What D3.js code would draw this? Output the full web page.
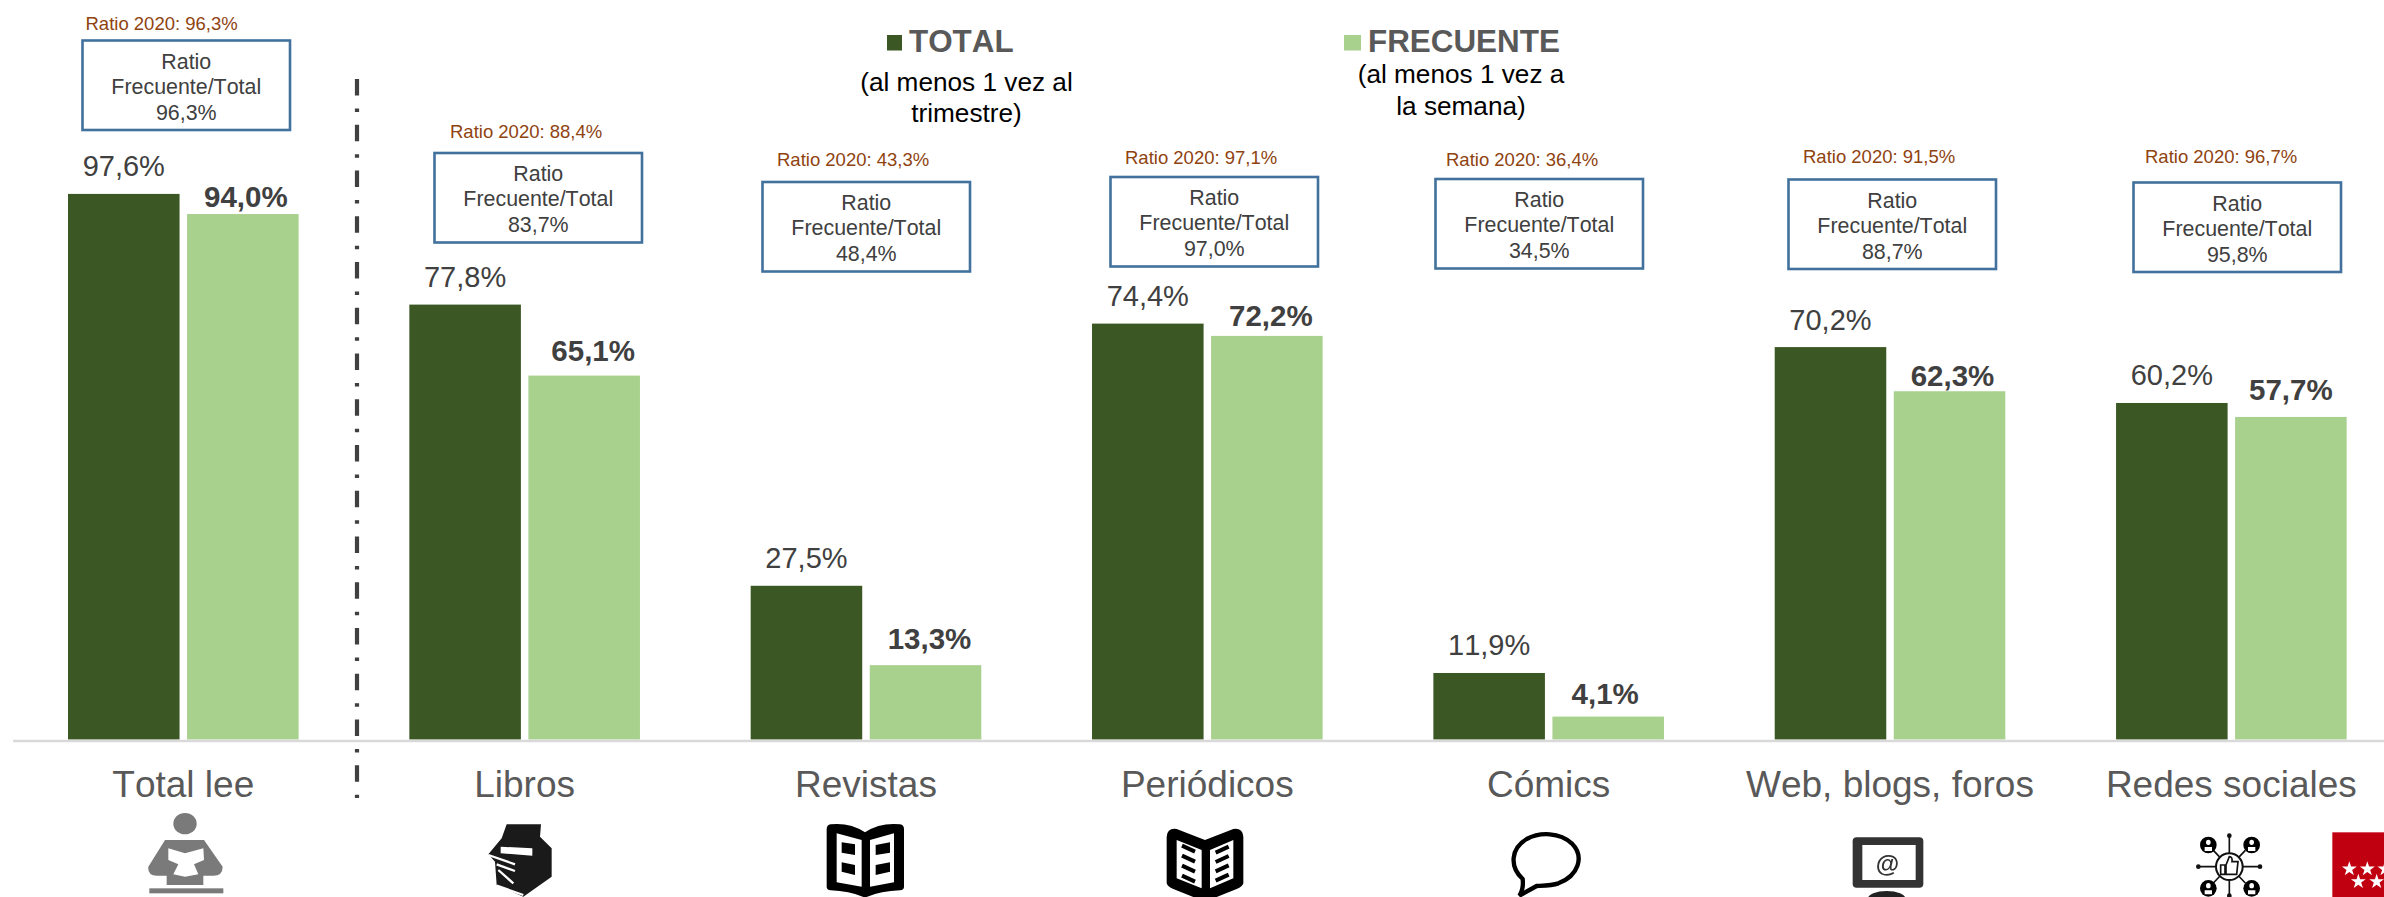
<!DOCTYPE html>
<html lang="es">
<head>
<meta charset="utf-8">
<title>Lectura: total y frecuente</title>
<script src="https://cdn.jsdelivr.net/npm/d3@7/dist/d3.min.js"></script>
<style>
html,body{margin:0;padding:0;background:#fff;overflow:hidden}
svg{display:block;font-family:"Liberation Sans",Arial,sans-serif;font-kerning:none}
svg text{font-kerning:none}
</style>
</head>
<body>
<svg id="chart" width="2384" height="897" viewBox="0 0 2384 897"></svg>
<script>
const categories = ["Total lee","Libros","Revistas","Periódicos","Cómics","Web, blogs, foros","Redes sociales"];
const seriesKeys = ["total","frecuente"];
const totalValues = [97.6,77.8,27.5,74.4,11.9,70.2,60.2];
const frecuenteValues = [94.0,65.1,13.3,72.2,4.1,62.3,57.7];
const ratioValues = [96.3,83.7,48.4,97.0,34.5,88.7,95.8];
const ratio2020Values = [96.3,88.4,43.3,97.1,36.4,91.5,96.7];

// layout of annotations
const boxLeft = [82.5,434.5,762.5,1110.5,1435.5,1788.5,2133.5];
const boxTop = [40.5,153,182,177,179,179.5,182.5];
const ratio2020Left = [85.5,450,777,1125,1446,1803,2145];
const ratio2020Mid = [23,131,159.5,157,159,156.5,156.5];
const freqLabelNudge = [3,9,4,4,-3,3,0];
const freqLabelLift = [7,14.5,16,10,13,5.5,17];

const fmtLocale = d3.formatLocale({decimal:",",thousands:".",grouping:[3],currency:["","€"]});
const pct = v => fmtLocale.format(".1f")(v) + "%";

const svg = d3.select("#chart");
const baseY = 739.5;
const y = d3.scaleLinear().domain([0,100]).range([baseY,baseY-559]);
const x0 = d3.scaleBand().domain(categories).range([12.6,2402]).padding(0);
const x1 = d3.scaleBand().domain(seriesKeys).range([55.4,286]).paddingInner(0.063);
const color = d3.scaleOrdinal().domain(seriesKeys).range(["#3b5723","#a9d18e"]);

const valuesOf = {total: totalValues, frecuente: frecuenteValues};

// Bars
const groups = svg.append("g").selectAll("g").data(categories).join("g")
  .attr("transform", c => `translate(${x0(c)},0)`);
groups.selectAll("rect")
  .data((c,i) => seriesKeys.map(k => ({k, v: valuesOf[k][i]})))
  .join("rect")
  .attr("x", d => x1(d.k)).attr("width", x1.bandwidth())
  .attr("y", d => y(d.v)).attr("height", d => baseY - y(d.v))
  .attr("fill", d => color(d.k));

// Axis
const axis = svg.append("g").attr("transform",`translate(0,${baseY+1})`)
  .call(d3.axisBottom(x0).tickSize(0));
axis.select(".domain").attr("stroke","#d9d9d9").attr("stroke-width",2.5);
axis.selectAll("text").attr("font-family",'"Liberation Sans",Arial,sans-serif')
  .attr("font-size",37).attr("fill","#595959").attr("y",56.5).attr("dy",0);

// Value labels
groups.append("text").attr("text-anchor","middle")
  .attr("x", x1("total")+x1.bandwidth()/2)
  .attr("y", (c,i) => y(totalValues[i]) - 17.5)
  .attr("font-size",29).attr("fill","#404040")
  .text((c,i) => pct(totalValues[i]));
groups.append("text").attr("text-anchor","middle")
  .attr("x", (c,i) => x1("frecuente")+x1.bandwidth()/2+freqLabelNudge[i])
  .attr("y", (c,i) => y(frecuenteValues[i]) - freqLabelLift[i])
  .attr("font-size",29.5).attr("font-weight","bold").attr("fill","#404040")
  .text((c,i) => pct(frecuenteValues[i]));

// Divider
svg.append("line").attr("x1",357).attr("x2",357).attr("y1",79).attr("y2",798)
  .attr("stroke","#404040").attr("stroke-width",4.2)
  .attr("stroke-dasharray","16.5 13 3.5 12.75");

// Ratio boxes
const boxW = 207.5, boxH = 89.5;
const boxes = svg.append("g").selectAll("g").data(ratioValues).join("g")
  .attr("transform",(d,i)=>`translate(${boxLeft[i]},${boxTop[i]})`);
boxes.append("rect").attr("width",boxW).attr("height",boxH)
  .attr("fill","#fff").attr("stroke","#41719c").attr("stroke-width",2.6);
const boxLine = (txt,yy) => boxes.append("text").attr("x",boxW/2).attr("y",yy)
  .attr("text-anchor","middle").attr("font-size",21.4).attr("fill","#404040").text(txt);
boxLine("Ratio",28);
boxLine("Frecuente/Total",53);
boxLine(d=>pct(d),79);

svg.append("g").selectAll("text").data(ratio2020Values).join("text")
  .attr("x",(d,i)=>ratio2020Left[i]).attr("y",(d,i)=>ratio2020Mid[i]+6.5)
  .attr("font-size",18.5).attr("fill","#8f4310")
  .text(d=>"Ratio 2020: "+pct(d));

// Legend
const legend = [
  {k:"total",label:"TOTAL",sx:887,sw:15,tx:909,cx:966.5,sub:["(al menos 1 vez al","trimestre)"],by:[91,122]},
  {k:"frecuente",label:"FRECUENTE",sx:1344,sw:17,tx:1368,cx:1461,sub:["(al menos 1 vez a","la semana)"],by:[83,115]}
];
legend.forEach(l=>{
  svg.append("rect").attr("x",l.sx).attr("y",35).attr("width",l.sw).attr("height",15.5).attr("fill",color(l.k));
  svg.append("text").attr("x",l.tx).attr("y",52).attr("font-size",31.4).attr("font-weight","bold").attr("fill","#595959").text(l.label);
  l.sub.forEach((s,i)=>svg.append("text").attr("x",l.cx).attr("y",l.by[i]).attr("text-anchor","middle").attr("font-size",26.2).attr("fill","#000").text(s));
});

// Pictograms (hand-drawn approximations of the original images)
const defs = svg.append("defs");
defs.append("filter").attr("id","soft").append("feGaussianBlur").attr("stdDev",0.55);
const icon = (ox,oy) => svg.append("g").attr("transform",`translate(${ox},${oy}) scale(${1/3})`).attr("filter","url(#soft)");
const P = (g,d,f,extra={}) => { const p=g.append("path").attr("d",d).attr("fill",f); Object.entries(extra).forEach(([a,b])=>p.attr(a,b)); return p; };

// Total lee
let g = icon(130,805);
g.append("ellipse").attr("cx",165).attr("cy",56).attr("rx",35).attr("ry",32).attr("fill","#7a7a7a");
P(g,"M105,105 L222,105 L278,185 Q278,212 250,212 L220,212 L220,240 L110,240 L110,212 L80,212 Q52,212 55,185 Z","#7a7a7a");
P(g,"M115,130 L165,145 L220,130 L222,165 L192,178 L205,208 L165,215 L130,208 L145,178 L115,165 Z","#fff");
g.append("rect").attr("x",58).attr("y",250).attr("width",222).attr("height",15).attr("fill","#7a7a7a");

// Libros
g = icon(470,805);
P(g,"M110,58 L213,58 L210,95 L245,130 L245,215 L160,275 L80,240 L75,170 L55,148 L95,100 Z","#1a1a1a");
P(g,"M92,125 L187,130 L187,152 L92,145 Z","#fff");
P(g,"M55,150 L135,178 M80,178 L135,198 M85,195 L130,235 M80,242 L160,270","none",{stroke:"#fff","stroke-width":7});

// Revistas
g = icon(810,805);
P(g,"M62,58 Q120,52 165,82 Q210,52 270,58 Q282,60 282,72 L282,245 Q282,255 270,256 Q210,258 165,278 Q120,258 62,256 Q50,255 50,245 L50,72 Q50,60 62,58 Z","#000");
P(g,"M80,85 L155,105 L155,245 L80,232 Z M180,105 L252,85 L252,232 L180,245 Z","#fff");
P(g,"M95,112 L135,118 L135,150 L95,143 Z M95,172 L135,180 L135,210 L95,200 Z M197,120 L240,112 L240,143 L197,150 Z M197,180 L240,172 L240,200 L197,210 Z","#000");

// Periódicos
g = icon(1150,805);
P(g,"M50,95 Q52,68 80,72 L165,105 L250,72 Q278,68 280,95 L280,235 Q278,245 260,252 L165,290 L70,252 Q52,245 50,235 Z","#000");
P(g,"M80,105 L155,135 L155,250 L80,220 Z M180,135 L250,105 L250,220 L180,250 Z","#fff");
const stripes = [0,1,2,3];
g.selectAll(".l").data(stripes).join("path").attr("class","l").attr("d",i=>`M96,${122+i*30} L135,${140+i*30}`).attr("stroke","#000").attr("stroke-width",12).attr("fill","none");
g.selectAll(".r").data(stripes).join("path").attr("class","r").attr("d",i=>`M197,${143+i*28} L236,${125+i*28}`).attr("stroke","#000").attr("stroke-width",12).attr("fill","none");

// Cómics
g = icon(1490,805);
P(g,"M98,222 C58,185 62,130 110,102 C150,80 210,82 245,115 C285,155 265,212 205,235 C185,242 160,242 140,243 L88,272 C100,255 100,240 98,222 Z","#fff",{stroke:"#000","stroke-width":13});

// Web, blogs, foros
g = icon(1830,805);
g.append("rect").attr("x",68).attr("y",97).attr("width",212).attr("height",151).attr("rx",12).attr("fill","#333");
g.append("rect").attr("x",97).attr("y",120).attr("width",160).attr("height",105).attr("fill","#fff");
g.append("text").attr("x",172).attr("y",202).attr("text-anchor","middle").attr("font-size",72).attr("font-weight","bold").attr("fill","#333").text("@");
g.append("ellipse").attr("cx",170).attr("cy",282).attr("rx",57).attr("ry",24).attr("fill","#222");

// Redes sociales
g = icon(2180,815);
g.append("circle").attr("cx",148).attr("cy",155).attr("r",40).attr("fill","none").attr("stroke","#111").attr("stroke-width",6);
P(g,"M148,62 L148,115 M148,195 L148,242 M55,155 L108,155 M188,155 L240,155 M100,106 L120,127 M196,106 L176,127 M100,204 L120,183 M196,204 L176,183","none",{stroke:"#111","stroke-width":5});
g.selectAll(".dot").data([[148,62],[55,155],[240,155],[148,242]]).join("circle").attr("class","dot").attr("cx",d=>d[0]).attr("cy",d=>d[1]).attr("r",7).attr("fill","#111");
const heads = [[85,90],[215,90],[85,220],[215,220]];
g.selectAll(".h").data(heads).join("circle").attr("class","h").attr("cx",d=>d[0]).attr("cy",d=>d[1]).attr("r",25).attr("fill","#000");
g.selectAll(".hi").data(heads).join("path").attr("class","hi").attr("d",d=>`M${d[0]-11},${d[1]+18} L${d[0]-11},${d[1]+6} L${d[0]+11},${d[1]+6} L${d[0]+11},${d[1]+18} Z M${d[0]-7},${d[1]-8} a7,8 0 1,0 14,0 a7,8 0 1,0 -14,0 Z`).attr("fill","#fff");
P(g,"M122,150 L135,150 L135,178 L122,178 Z M138,150 L148,125 Q158,125 156,140 L174,140 L170,178 L138,178 Z","none",{stroke:"#111","stroke-width":5});

// Emblem, cut by the edge of the picture
g = icon(2180,815);
g.append("rect").attr("x",457).attr("y",52).attr("width",160).attr("height",200).attr("fill","#c00011");
const star = d3.symbol().type(d3.symbolStar).size(620);
g.selectAll(".s").data([[508,162],[562,162],[615,162],[535,200],[590,200]]).join("path").attr("class","s")
  .attr("d",star).attr("transform",d=>`translate(${d[0]},${d[1]})`).attr("fill","#fff");
</script>
</body>
</html>
